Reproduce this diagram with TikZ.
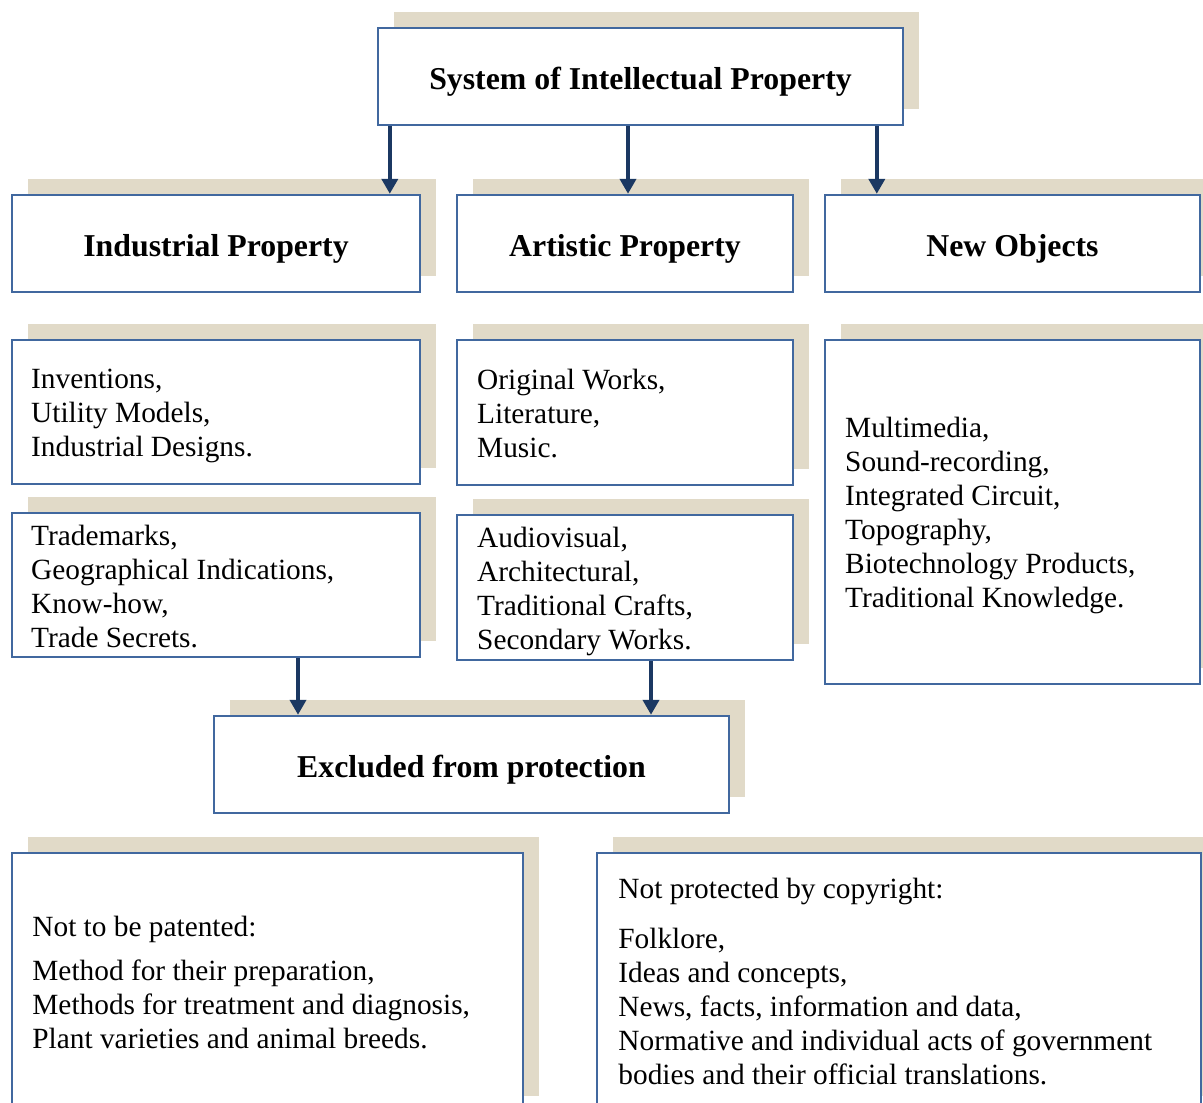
\documentclass[tikz,border=0pt]{standalone}
\usepackage{fontspec}
\setmainfont{Liberation Serif}
\usetikzlibrary{shadows,arrows.meta}
\definecolor{shadowc}{HTML}{E1DAC8}
\definecolor{borderc}{HTML}{41689F}
\definecolor{arrowc}{HTML}{1B3862}
\tikzset{
  boxbase/.style={draw=borderc, line width=1.2pt, fill=white, rectangle,
    general shadow={fill=shadowc, shadow xshift=8pt, shadow yshift=8pt}},
  titlebox/.style={boxbase, align=center, inner sep=0pt, text height=12.6pt, text depth=0pt,
    font=\fontsize{15.9pt}{19pt}\selectfont\bfseries},
  bodytext/.style={align=flush left, inner sep=0pt,
    font=\fontsize{14.67pt}{17pt}\selectfont},
  arr/.style={draw=arrowc, line width=2pt, -{Triangle[width=8pt,length=7.5pt]}}
}
\begin{document}
\begin{tikzpicture}[x=0.5pt,y=-0.5pt]
\useasboundingbox (0,0) rectangle (1203,1102);
\clip (0,0) rectangle (1203,1102);
% titles
\node[titlebox, minimum width=262.5pt, minimum height=48.5pt] (top) at (640.5,76.5) {System of Intellectual Property};
\node[titlebox, minimum width=204pt, minimum height=48.5pt] (ind) at (216,243.5) {Industrial Property};
\node[titlebox, minimum width=168pt, minimum height=48.5pt] (art) at (625,243.5) {Artistic Property};
\node[titlebox, minimum width=187.5pt, minimum height=48.5pt] (newo) at (1012.5,243.5) {New Objects};
% list boxes
\node[boxbase, minimum width=204pt, minimum height=72pt] (inv) at (216,412) {};
\node[boxbase, minimum width=168pt, minimum height=72.5pt] (orig) at (625,412.5) {};
\node[boxbase, minimum width=187.5pt, minimum height=172pt] (newlist) at (1012.5,512) {};
\node[boxbase, minimum width=204pt, minimum height=72pt] (trade) at (216,585) {};
\node[boxbase, minimum width=168pt, minimum height=72.5pt] (audio) at (625,587.5) {};
% list texts
\node[bodytext, anchor=west] (invtxt) at ([xshift=10pt,yshift=-2pt]inv.west) {Inventions,\\Utility Models,\\Industrial Designs.};
\node[bodytext, anchor=west] (origtxt) at ([xshift=10.5pt,yshift=-0.75pt]orig.west) {Original Works,\\Literature,\\Music.};
\node[bodytext, anchor=west] (newtxt) at ([xshift=10.5pt,yshift=-1.75pt]newlist.west) {Multimedia,\\Sound-recording,\\Integrated Circuit,\\Topography,\\Biotechnology Products,\\Traditional Knowledge.};
\node[bodytext, anchor=west] (tradetxt) at ([xshift=10pt,yshift=-0.75pt]trade.west) {Trademarks,\\Geographical Indications,\\Know-how,\\Trade Secrets.};
\node[bodytext, anchor=west] (audiotxt) at ([xshift=10.5pt,yshift=-2pt]audio.west) {Audiovisual,\\Architectural,\\Traditional Crafts,\\Secondary Works.};
% excluded
\node[titlebox, minimum width=257.5pt, minimum height=48.5pt] (excl) at (471.5,764.5) {Excluded from protection};
% bottom boxes
\node[boxbase, minimum width=255.5pt, minimum height=129.5pt] (notpat) at (267.5,982.5) {};
\node[boxbase, minimum width=302pt, minimum height=129.5pt] (notcopy) at (899,982.5) {};
\node[bodytext, anchor=base west] (patxt) at (32,1048) {Not to be patented:\\[5pt]Method for their preparation,\\Methods for treatment and diagnosis,\\Plant varieties and animal breeds.};
\node[bodytext, anchor=base west] (copytxt) at (618,1084) {Not protected by copyright:\\[8pt]Folklore,\\Ideas and concepts,\\News, facts, information and data,\\Normative and individual acts of government\\bodies and their official translations.};
% arrows
\draw[arr] ([xshift=6.5pt]top.south west) -- ([xshift=6.5pt]top.south west |- ind.north);
\draw[arr] ([xshift=1.5pt]art.north |- top.south) -- ([xshift=1.5pt]art.north);
\draw[arr] ([xshift=26.5pt]newo.north west |- top.south) -- ([xshift=26.5pt]newo.north west);
\draw[arr] ([xshift=41pt]trade.south) -- ([xshift=41pt]trade.south |- excl.north);
\draw[arr] ([xshift=13pt]audio.south) -- ([xshift=13pt]audio.south |- excl.north);
\end{tikzpicture}
\end{document}
